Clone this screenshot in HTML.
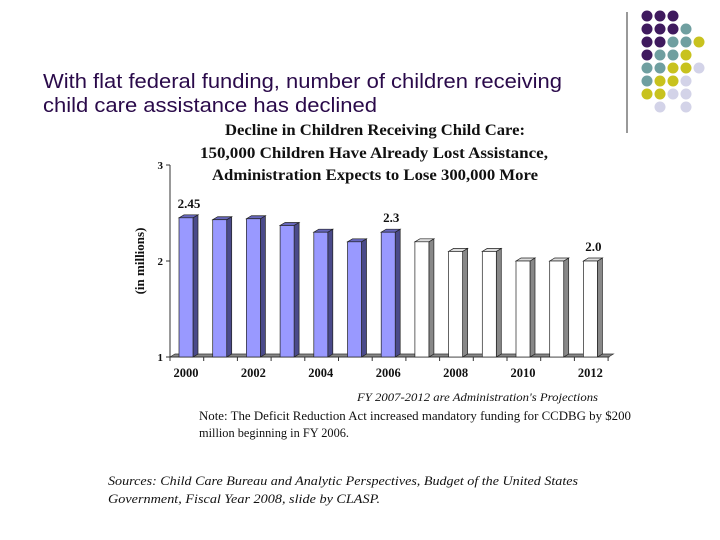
<!DOCTYPE html>
<html><head><meta charset="utf-8"><style>
html,body{margin:0;padding:0;background:#fff;width:720px;height:540px;overflow:hidden}
svg{display:block}
</style></head><body>
<svg id="s" width="720" height="540" xmlns="http://www.w3.org/2000/svg">
<line x1="627" y1="12" x2="627" y2="133" stroke="#333" stroke-width="1"/>
<g id="dots"></g>
<text x="43" y="88" font-family="Liberation Sans, sans-serif" font-size="20.5" fill="#2a0a4a" textLength="519" lengthAdjust="spacingAndGlyphs">With flat federal funding, number of children receiving</text>
<text x="43" y="112" font-family="Liberation Sans, sans-serif" font-size="20.5" fill="#2a0a4a" textLength="334" lengthAdjust="spacingAndGlyphs">child care assistance has declined</text>
<g font-family="Liberation Serif, serif" font-weight="bold" font-size="16" fill="#111">
<text x="225" y="135" textLength="300" lengthAdjust="spacingAndGlyphs">Decline in Children Receiving Child Care:</text>
<text x="200" y="158" textLength="348" lengthAdjust="spacingAndGlyphs">150,000 Children Have Already Lost Assistance,</text>
<text x="212" y="180" textLength="326" lengthAdjust="spacingAndGlyphs">Administration Expects to Lose 300,000 More</text>
</g>
<text transform="translate(144,261) rotate(-90)" text-anchor="middle" font-family="Liberation Serif, serif" font-weight="bold" font-size="13" fill="#111">(in millions)</text>
<g id="chart"></g>
<text x="357" y="401" font-family="Liberation Serif, serif" font-style="italic" font-size="11.5" fill="#111" textLength="241" lengthAdjust="spacingAndGlyphs">FY 2007-2012 are Administration's Projections</text>
<text x="199" y="420" font-family="Liberation Serif, serif" font-size="12.5" fill="#111" textLength="432" lengthAdjust="spacingAndGlyphs">Note: The Deficit Reduction Act increased mandatory  funding for CCDBG by  $200</text>
<text x="199" y="437" font-family="Liberation Serif, serif" font-size="12.5" fill="#111" textLength="150" lengthAdjust="spacingAndGlyphs">million beginning in FY 2006.</text>
<text x="108" y="485" font-family="Liberation Serif, serif" font-style="italic" font-size="13" fill="#111" textLength="470" lengthAdjust="spacingAndGlyphs">Sources:  Child Care Bureau and Analytic Perspectives, Budget of the United States</text>
<text x="108" y="503" font-family="Liberation Serif, serif" font-style="italic" font-size="13" fill="#111" textLength="272" lengthAdjust="spacingAndGlyphs">Government, Fiscal Year 2008, slide by CLASP.</text>
</svg>
<script>
const years = [2000,2001,2002,2003,2004,2005,2006,2007,2008,2009,2010,2011,2012];
const values = [2.45,2.43,2.44,2.37,2.30,2.20,2.30,2.20,2.10,2.10,2.00,2.00,2.00];
const projected = [0,0,0,0,0,0,0,1,1,1,1,1,1];
const yTicks = [1,2,3];
const xTickLabels = ["2000","2002","2004","2006","2008","2010","2012"];
const valueLabels = [["2.45",0],["2.3",6],["2.0",12]];

const NS="http://www.w3.org/2000/svg";
function mk(tag,attrs,parent){const e=document.createElementNS(NS,tag);for(const k in attrs)e.setAttribute(k,attrs[k]);parent.appendChild(e);return e;}
const g=document.getElementById('chart');
const yMin=1,yMax=3,yTop=165,yBot=357;
const yS=v=>yBot-(v-yMin)/(yMax-yMin)*(yBot-yTop);
const x0=179,step=33.7,bw=14,dx=5,dy=3;
const xS=i=>x0+i*step;

let ax=mk('line',{x1:170,y1:yTop,x2:170,y2:yBot,stroke:'#333','stroke-width':1},g);


let fl=mk('polygon',{points:`170,${yBot} ${xS(12)+bw+dx+6},${yBot} ${xS(12)+bw+dx+6+dx},${yBot-dy} ${170+dx},${yBot-dy}`,fill:'#888',stroke:'#333','stroke-width':0.7},g);


let xa=mk('line',{x1:170,y1:yBot,x2:xS(12)+bw+12,y2:yBot,stroke:'#333','stroke-width':1},g);



yTicks.forEach(t=>{
  const y=yS(t);
  let l=mk('line',{x1:166,y1:y,x2:170,y2:y,stroke:'#333'},g);
  
  
  let tx=mk('text',{x:163,y:y+4,'text-anchor':'end','font-family':'Liberation Serif, serif','font-weight':'bold','font-size':11,fill:'#111'},g);
  tx.textContent=t;
  
  
});

values.forEach((v,i)=>{
  const x=xS(i),y=yS(v);
  const p=projected[i];
  const front=p?'#ffffff':'#9999ff', side=p?'#888888':'#4a4a8a', top=p?'#dddddd':'#6666bb';
  const bg=mk('g',{},g);
  
  
  mk('polygon',{points:`${x+bw},${y} ${x+bw+dx},${y-dy} ${x+bw+dx},${yBot-dy} ${x+bw},${yBot}`,fill:side,stroke:'#222','stroke-width':0.7},bg);
  mk('polygon',{points:`${x},${y} ${x+dx},${y-dy} ${x+bw+dx},${y-dy} ${x+bw},${y}`,fill:top,stroke:'#222','stroke-width':0.7},bg);
  mk('rect',{x:x,y:y,width:bw,height:yBot-y,fill:front,stroke:'#222','stroke-width':0.7},bg);
});
for(let i=0;i<=13;i++){
  const x=170+i*step;
  let l=mk('line',{x1:x,y1:yBot,x2:x,y2:yBot+4,stroke:'#333'},g);
  
  
}
xTickLabels.forEach((lab,k)=>{
  const i=years.indexOf(+lab);
  let t=mk('text',{x:xS(i)+bw/2,y:377,'text-anchor':'middle','font-family':'Liberation Serif, serif','font-weight':'bold','font-size':12.5,fill:'#111'},g);
  t.textContent=lab;
  
  
});
valueLabels.forEach(([lab,i])=>{
  let t=mk('text',{x:xS(i)+bw/2+3,y:yS(values[i])-10,'text-anchor':'middle','font-family':'Liberation Serif, serif','font-weight':'bold','font-size':13,fill:'#111'},g);
  t.textContent=lab;
  
  
});

const C={P:'#3f1a5e',T:'#6f9fa0',Y:'#c8c21e',L:'#d3d3e8'};
const rows=["PPP","PPPT","PPTTY","PTTY","TTYYL","TYYL","YYLL","_L_L"];
const dg=document.getElementById('dots');
rows.forEach((r,ri)=>{[...r].forEach((c,ci)=>{
  if(c==='_')return;
  const d=mk('circle',{cx:647+ci*13,cy:16+ri*13,r:5.5,fill:C[c]},dg);
  
  
});});
</script>
</body></html>
